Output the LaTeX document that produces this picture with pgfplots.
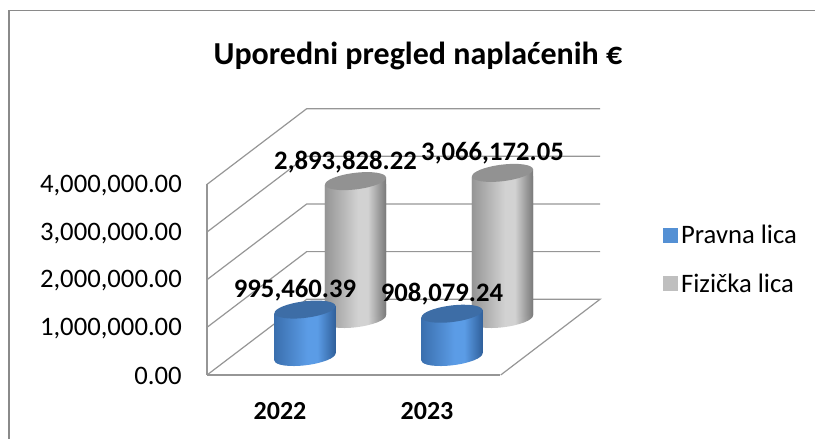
\documentclass[border=0pt]{standalone}
\usepackage{pgfplots}
\usepackage{pgfplotstable}
\pgfplotsset{compat=1.18}
\usepackage{fontspec}
\setmainfont{Carlito}
\usetikzlibrary{shapes.geometric}

\definecolor{linegray}{HTML}{969696}
\definecolor{framegray}{HTML}{8A8A8A}
\definecolor{gtop}{HTML}{929292}
\definecolor{btop}{HTML}{3D6DA6}
\definecolor{g0}{HTML}{959595}
\definecolor{g1}{HTML}{D2D2D2}
\definecolor{g2}{HTML}{787878}
\pgfdeclarehorizontalshading{cylgray}{100bp}{
  color(0bp)=(g0);
  color(25bp)=(g0);
  color(52bp)=(g1);
  color(60bp)=(g1);
  color(75bp)=(g2);
  color(100bp)=(g2)}
\definecolor{b0}{HTML}{3A6FAE}
\definecolor{b1}{HTML}{5B9CE6}
\definecolor{b2}{HTML}{2F5F9A}
\pgfdeclarehorizontalshading{cylblue}{100bp}{
  color(0bp)=(b0);
  color(25bp)=(b0);
  color(52bp)=(b1);
  color(60bp)=(b1);
  color(75bp)=(b2);
  color(100bp)=(b2)}

\pgfplotstableread{
x y label
0 995460.39 {995,460.39}
1 908079.24 {908,079.24}
}\pravna
\pgfplotstableread{
x y label
0 2893828.22 {2,893,828.22}
1 3066172.05 {3,066,172.05}
}\fizicka

\pgfplotsset{
  common/.style={scale only axis,width=219.75pt,height=142.95pt,
    xmin=-0.66667,xmax=1.32653,ymin=0,ymax=4000000,clip=false,
    scaled y ticks=false,scaled x ticks=false},
  hidden/.style={common,axis lines=none},
  cap/.style={draw=none,mark=none,nodes near coords={},
    every node near coord/.style={anchor=center,ellipse,inner sep=0pt,outer sep=0pt,
      minimum width=46.1pt,minimum height=12.4pt,rotate=7,#1}},
  body/.style={ybar,bar shift=0pt,bar width=46.1pt,draw=none,shade,shading=#1},
  vals/.style={draw=none,mark=none,point meta=explicit symbolic,nodes near coords,
    every node near coord/.style={anchor=center,xshift=-7.5pt,yshift=14.6pt,
      font=\fontsize{20}{22}\selectfont\bfseries,text=black,inner sep=0pt}},
}

\begin{document}
\begin{tikzpicture}[x=0.75pt,y=0.75pt]
\useasboundingbox (0,0) rectangle (815,439);
% outer frame
\draw[framegray,line width=1.1pt] (9,0) -- (9,428.5) -- (815,428.5);
% walls and floor
\foreach \k in {1,2,3,4}{
  \draw[linegray,line width=0.9pt] (207,{64+47.65*\k}) -- (306.7,{139.7+47.65*\k}) -- (600,{139.7+47.65*\k});
}
\draw[linegray,line width=0.9pt] (207,64) -- (306.7,139.7) -- (600,139.7) -- (500.7,64);

% main axis: tick labels, title, legend
\begin{axis}[common,at={(155.25pt,48pt)},anchor=south west,
  axis x line=bottom,axis y line=left,
  axis line style={-,linegray,line width=0.9pt},
  ytick={0,1000000,2000000,3000000,4000000},
  yticklabels={{0.00},{1,000,000.00},{2,000,000.00},{3,000,000.00},{4,000,000.00}},
  xtick={0,1},xticklabels={2022,2023},
  major tick length=0pt,
  tick style={draw=none},
  yticklabel style={font=\fontsize{20}{22}\selectfont,text=black,inner sep=0pt,xshift=-18.75pt,yshift=-0.8pt},
  xticklabel style={font=\fontsize{19.5}{22}\selectfont\bfseries,text=black,xshift=-18.75pt,yshift=-20.75pt,inner sep=0pt},
  title={Uporedni pregled naplaćenih €},
  title style={at={(axis description cs:0.72,1.632)},anchor=center,
    font=\fontsize{24}{28}\selectfont\bfseries,inner sep=0pt},
  legend style={at={(axis description cs:1.557,0.80)},anchor=north west,draw=none,fill=none,
    font=\fontsize{20}{22}\selectfont,row sep=16.7pt,inner sep=0pt,
    legend cell align=left},
  legend image code/.code={\fill[#1,draw=none] (0pt,-5.6pt) rectangle (11.25pt,5.6pt);},
]
\addlegendimage{fill=b1!92!black}
\addlegendentry{Pravna lica}
\addlegendimage{fill=black!25!white}
\addlegendentry{Fizička lica}
\end{axis}

% Fizička lica (rear row)
\begin{axis}[hidden,at={(193.125pt,90pt)},anchor=south west]
\addplot[cap={shade,shading=cylgray}] table[x=x,y expr=0] {\fizicka};
\end{axis}
\begin{scope}
\clip (324.75,116.2) -- (386.25,123.8) -- (386.25,261.7) -- (324.75,254.1) -- cycle
      (471.75,116.2) -- (533.25,123.8) -- (533.25,269.9) -- (471.75,262.3) -- cycle;
\begin{axis}[hidden,at={(193.125pt,90pt)},anchor=south west]
\addplot[body=cylgray,yshift=2.85pt] coordinates {(0,2893828.22)};
\addplot[body=cylgray,yshift=-2.85pt] coordinates {(0,2893828.22)};
\addplot[body=cylgray,yshift=2.85pt] coordinates {(1,3066172.05)};
\addplot[body=cylgray,yshift=-2.85pt] coordinates {(1,3066172.05)};
\end{axis}
\end{scope}
\begin{axis}[hidden,at={(193.125pt,90pt)},anchor=south west]
\addplot[cap={fill=gtop}] table[x=x,y=y] {\fizicka};
\addplot[vals] table[x=x,y=y,meta=label] {\fizicka};
\end{axis}

% Pravna lica (front row)
\begin{axis}[hidden,at={(155.25pt,61.5pt)},anchor=south west]
\addplot[cap={shade,shading=cylblue}] table[x=x,y expr=0] {\pravna};
\end{axis}
\begin{scope}
\clip (274.25,78.2) -- (335.75,85.8) -- (335.75,133.2) -- (274.25,125.6) -- cycle
      (421.25,78.2) -- (482.75,85.8) -- (482.75,129.1) -- (421.25,121.5) -- cycle;
\begin{axis}[hidden,at={(155.25pt,61.5pt)},anchor=south west]
\addplot[body=cylblue,yshift=2.85pt] coordinates {(0,995460.39)};
\addplot[body=cylblue,yshift=-2.85pt] coordinates {(0,995460.39)};
\addplot[body=cylblue,yshift=2.85pt] coordinates {(1,908079.24)};
\addplot[body=cylblue,yshift=-2.85pt] coordinates {(1,908079.24)};
\end{axis}
\end{scope}
\begin{axis}[hidden,at={(155.25pt,61.5pt)},anchor=south west]
\addplot[cap={fill=btop}] table[x=x,y=y] {\pravna};
\addplot[vals] table[x=x,y=y,meta=label] {\pravna};
\end{axis}
\end{tikzpicture}
\end{document}
